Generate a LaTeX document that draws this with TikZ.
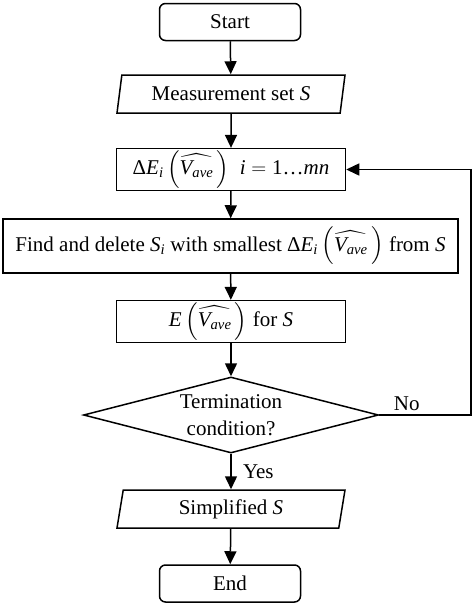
\documentclass[tikz,border=0pt]{standalone}
\usepackage{amsmath, amssymb}
\usepackage{fontspec}
\setmainfont{Liberation Serif}
\usetikzlibrary{shapes.geometric, arrows.meta}

\newcommand{\vit}[1]{\textit{#1}}
\newcommand{\vave}{\left(\widehat{\vit{V}_{\vit{ave}}}\,\right)}

\tikzset{
    base/.style={draw, line width=1.5pt, inner sep=2pt, align=center,
        font=\fontsize{21}{27}\selectfont},
    terminal/.style={base, rounded corners=6pt, minimum width=141pt, minimum height=37pt},
    process/.style={base, minimum width=229pt, minimum height=39pt},
    iobox/.style={base, trapezium, trapezium left angle=75, trapezium right angle=105,
        trapezium stretches body, minimum width=228pt, minimum height=38pt},
    decision/.style={base, diamond, aspect=3.9, inner sep=0pt,
        minimum width=295pt, minimum height=76pt},
    arrow/.style={line width=1.5pt, -{Triangle[width=12pt,length=13pt]}}
}

\begin{document}
\begin{tikzpicture}[x=1pt, y=-1pt]
        \useasboundingbox (0,0) rectangle (474,606);

        \node[terminal] (start) at (230, 22) {Start};
        \node[iobox] (meas) at (231, 94) {Measurement set \vit{S}};
        \node[process] (delta) at (231, 169.5) {$\text{Δ}\vit{E}_{\vit{i}}\vave$ \ $\vit{i}=\text{1…}\vit{mn}$};
        \node[process, minimum width=455pt, minimum height=54pt] (find) at (230.5, 246)
            {Find and delete $\vit{S}_{\vit{i}}$ with smallest $\text{Δ}\vit{E}_{\vit{i}}\vave$ from \vit{S}};
        \node[process] (energy) at (231, 321.5) {$\vit{E}\vave$ for \vit{S}};
        \node[decision] (cond) at (231, 415) {Termination\\condition?};
        \node[iobox] (simp) at (231, 509) {Simplified \vit{S}};
        \node[terminal] (end) at (230, 583.5) {End};

        \coordinate (loop) at (471, 0);

        \draw[arrow] (start) -- (meas);
        \draw[arrow] (meas) -- (delta);
        \draw[arrow] (delta) -- (find);
        \draw[arrow] (find) -- (energy);
        \draw[arrow] (energy) -- (cond);
        \draw[arrow] (cond) -- node[right, font=\fontsize{21}{27}\selectfont, xshift=8pt] {Yes} (simp);
        \draw[arrow] (simp) -- (end);
        \draw[arrow] (cond.east) -- node[above, font=\fontsize{21}{27}\selectfont, pos=0.3] {No}
            (cond.east -| loop) |- (delta.east);
    \end{tikzpicture}
\end{document}
